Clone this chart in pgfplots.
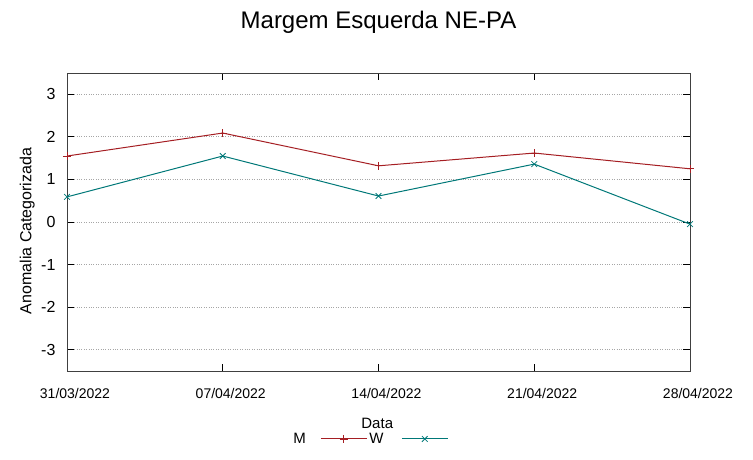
\documentclass[border=0pt]{standalone}
\usepackage{pgfplots}
\pgfplotsset{compat=1.18}
\usepackage{fontspec}
\setmainfont{Liberation Sans}
\definecolor{mred}{RGB}{165,30,35}
\definecolor{wteal}{RGB}{0,120,120}
\begin{document}
\begin{tikzpicture}[x=1pt,y=1pt]
\useasboundingbox (0,0) rectangle (753,459);
\begin{axis}[
  at={(67pt,88pt)}, anchor=south west,
  scale only axis, width=623pt, height=298pt,
  xmin=0, xmax=4, ymin=-3.5, ymax=3.5,
  xtick={0,1,2,3,4},
  xticklabels={31/03/2022,07/04/2022,14/04/2022,21/04/2022,28/04/2022},
  ytick={-3,-2,-1,0,1,2,3},
  tick align=inside, major tick length=7pt,
  tick style={black, line width=0.8pt},
  axis line style={black!75, line width=1pt},
  ymajorgrids,
  grid style={gray!70, dotted, line width=0.8pt},
  /pgf/number format/assume math mode=true,
  yticklabel style={font=\fontsize{16}{16}\selectfont, xshift=-8pt},
  xticklabel style={font=\fontsize{14}{14}\selectfont, xshift=8pt, yshift=-14pt},
  title={Margem Esquerda NE-PA},
  title style={font=\fontsize{24}{24}\selectfont, at={(axis description cs:0.5,1.15)}, anchor=center},
  xlabel={Data},
  xlabel style={font=\fontsize{15}{15}\selectfont, at={(axis description cs:0.498,-0.175)}, anchor=center},
  ylabel={Anomalia Categorizada},
  ylabel style={font=\fontsize{16}{16}\selectfont, at={(axis description cs:-0.064,0.47)}, anchor=center},
  legend columns=2,
  legend plot pos=right,
  legend image code/.code={
    \draw[#1, mark repeat=2, mark phase=2] plot coordinates {(0pt,0pt) (23pt,0pt) (46pt,0pt)};
  },
  legend style={draw=none, fill=none, font=\fontsize{15}{15}\selectfont,
    at={(axis description cs:0.486,-0.228)}, anchor=center,
    /tikz/every even column/.append style={column sep=0pt},
    /tikz/every odd column/.append style={column sep=0pt},
    inner sep=0pt, cells={anchor=west}},
]
\addplot[color=mred, line width=1pt, mark=+, mark size=4pt, mark options={line width=0.8pt}] coordinates {
  (0,1.55) (1,2.09) (2,1.32) (3,1.62) (4,1.25)
};
\addlegendentry{\makebox[25pt][l]{M}}
\addplot[color=wteal, line width=1pt, mark=x, mark size=4pt, mark options={line width=0.8pt}] coordinates {
  (0,0.59) (1,1.55) (2,0.61) (3,1.36) (4,-0.05)
};
\addlegendentry{\makebox[30pt][l]{W}}
\end{axis}
\end{tikzpicture}
\end{document}
